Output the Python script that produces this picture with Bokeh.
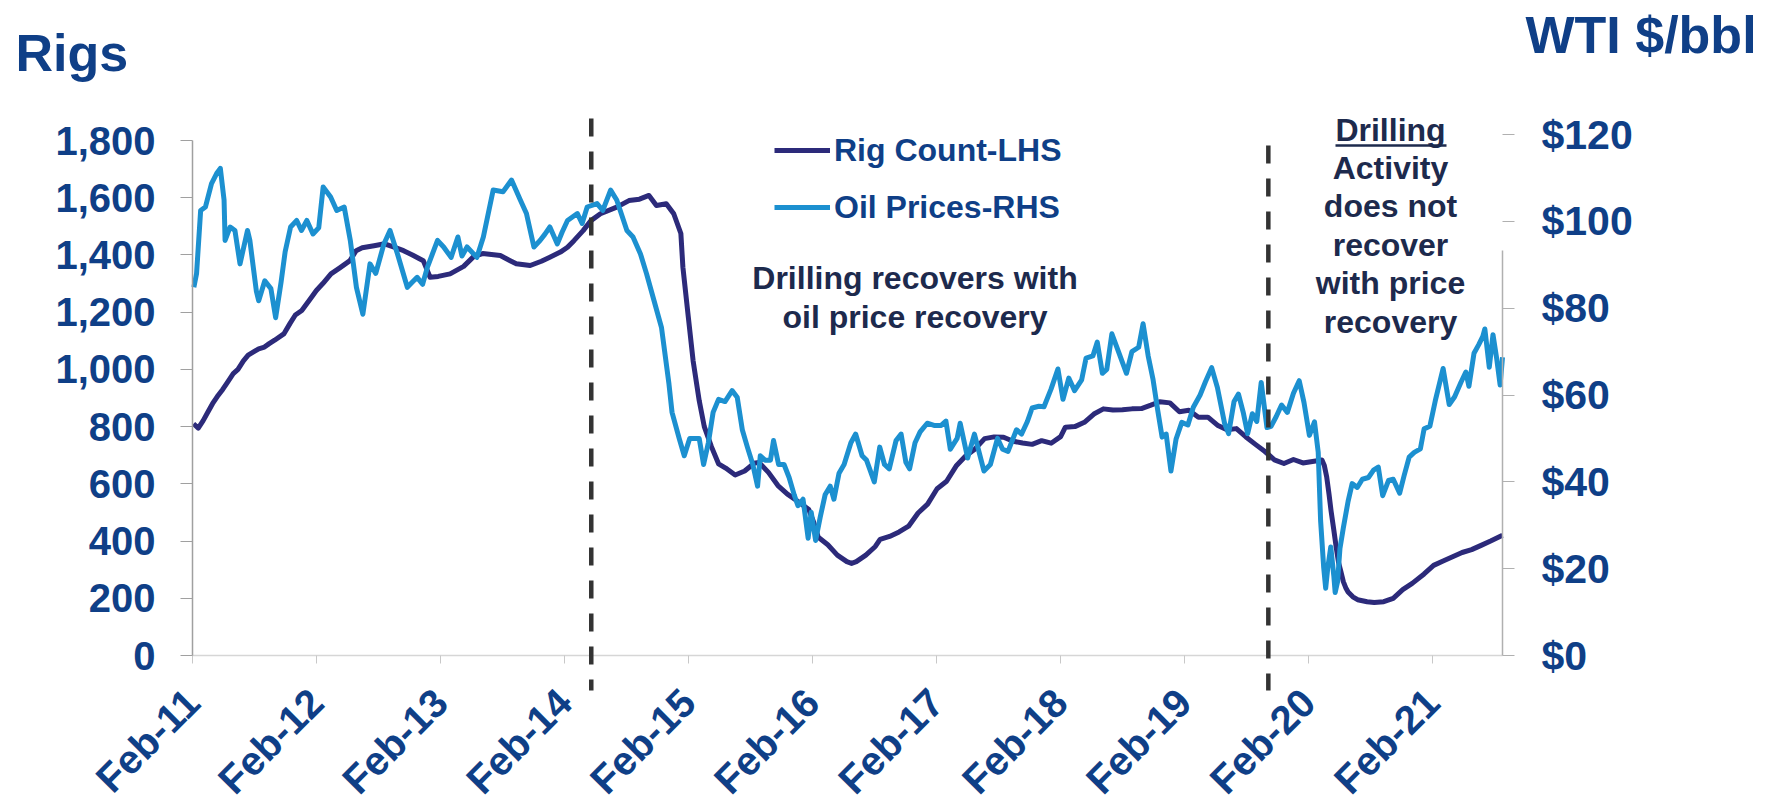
import math
import pandas as pd
from bokeh.plotting import figure
from bokeh.models import (Range1d, LinearAxis, FixedTicker, DatetimeTickFormatter,
                          NumeralTickFormatter, Label, Arrow, Legend, LegendItem)
from bokeh.embed import file_html
from bokeh.resources import INLINE

# ---------------- data ----------------
rig_dates = [
    "2011-02-04", "2011-02-18", "2011-03-04", "2011-03-18", "2011-04-01", "2011-04-15",
    "2011-05-01", "2011-05-15", "2011-06-01", "2011-06-15", "2011-07-01", "2011-07-15",
    "2011-08-01", "2011-08-15", "2011-09-01", "2011-09-15", "2011-10-01", "2011-10-28",
    "2011-11-15", "2011-12-01", "2011-12-20", "2012-01-15", "2012-02-01", "2012-02-20",
    "2012-03-15", "2012-04-10", "2012-05-10", "2012-05-28", "2012-06-15", "2012-07-20",
    "2012-08-20", "2012-09-15", "2012-10-15", "2012-11-10", "2012-12-12", "2013-01-01",
    "2013-01-25", "2013-03-01", "2013-04-10", "2013-05-10", "2013-06-05", "2013-07-27",
    "2013-08-25", "2013-09-12", "2013-10-23", "2013-11-25", "2013-12-20", "2014-01-20",
    "2014-02-10", "2014-03-01", "2014-03-28", "2014-04-20", "2014-05-18", "2014-07-05",
    "2014-08-10", "2014-09-10", "2014-10-08", "2014-10-30", "2014-11-28", "2014-12-20",
    "2015-01-10", "2015-01-16", "2015-02-01", "2015-02-15", "2015-03-05", "2015-03-20",
    "2015-04-10", "2015-05-01", "2015-05-22", "2015-06-19", "2015-07-17", "2015-08-14",
    "2015-08-28", "2015-09-25", "2015-10-23", "2015-11-20", "2015-12-18", "2016-01-22",
    "2016-02-05", "2016-02-19", "2016-03-18", "2016-04-15", "2016-05-13", "2016-05-27",
    "2016-06-10", "2016-07-08", "2016-08-05", "2016-08-19", "2016-09-16", "2016-10-14",
    "2016-11-11", "2016-12-09", "2017-01-06", "2017-02-03", "2017-03-03", "2017-03-31",
    "2017-04-28", "2017-05-26", "2017-06-23", "2017-07-21", "2017-08-18", "2017-09-15",
    "2017-10-13", "2017-11-10", "2017-12-08", "2018-01-05", "2018-02-02", "2018-02-16",
    "2018-03-16", "2018-04-13", "2018-05-11", "2018-06-08", "2018-07-06", "2018-08-03",
    "2018-08-31", "2018-09-28", "2018-10-26", "2018-11-21", "2018-12-21", "2019-01-18",
    "2019-02-15", "2019-03-15", "2019-04-12", "2019-05-10", "2019-06-07", "2019-07-05",
    "2019-08-02", "2019-08-30", "2019-09-27", "2019-10-25", "2019-11-22", "2019-12-20",
    "2020-01-17", "2020-02-14", "2020-03-13", "2020-03-20", "2020-03-27", "2020-04-03",
    "2020-04-09", "2020-04-17", "2020-04-24", "2020-05-01", "2020-05-08", "2020-05-15",
    "2020-05-22", "2020-05-29", "2020-06-12", "2020-06-26", "2020-07-24", "2020-08-14",
    "2020-09-11", "2020-10-09", "2020-11-06", "2020-12-04", "2021-01-08", "2021-02-05",
    "2021-03-05", "2021-04-02", "2021-04-30", "2021-05-28", "2021-06-25", "2021-07-23",
    "2021-08-27",
]
rig_counts = [
    810, 795, 820, 850, 880, 905,
    930, 955, 985, 1000, 1030, 1050,
    1062, 1072, 1078, 1090, 1102, 1124,
    1160, 1190, 1206, 1248, 1276, 1300,
    1334, 1355, 1380, 1415, 1425, 1432,
    1439, 1428, 1415, 1400, 1380, 1322,
    1325, 1334, 1360, 1395, 1405, 1398,
    1380, 1369, 1363, 1378, 1392, 1410,
    1427, 1450, 1485, 1520, 1544, 1567,
    1590, 1595, 1608, 1573, 1579, 1544,
    1475, 1357, 1182, 1031, 891, 800,
    730, 670, 655, 631, 645, 672,
    675, 640, 594, 564, 541, 510,
    467, 413, 387, 351, 328, 322,
    328, 351, 381, 406, 416, 432,
    452, 498, 529, 583, 609, 662,
    697, 722, 758, 764, 763, 749,
    743, 738, 751, 742, 765, 798,
    800, 815, 844, 862, 858, 859,
    862, 863, 875, 887, 883, 852,
    857, 833, 833, 805, 789, 793,
    764, 738, 713, 684, 671, 685,
    673, 678, 683, 664, 624, 562,
    504, 438, 378, 325, 292, 258,
    237, 222, 205, 195, 188, 185,
    188, 200, 230, 252, 285, 315,
    330, 345, 360, 370, 385, 400,
    420,
]

oil_dates = [
    "2011-02-05", "2011-02-13", "2011-02-25", "2011-03-11", "2011-03-29", "2011-04-13",
    "2011-04-24", "2011-05-05", "2011-05-08", "2011-05-23", "2011-06-06", "2011-06-21",
    "2011-07-13", "2011-07-20", "2011-08-08", "2011-08-15", "2011-09-02", "2011-09-20",
    "2011-10-04", "2011-10-20", "2011-11-01", "2011-11-17", "2011-12-05", "2011-12-19",
    "2012-01-04", "2012-01-22", "2012-02-08", "2012-02-21", "2012-03-14", "2012-04-01",
    "2012-04-23", "2012-05-11", "2012-05-29", "2012-06-17", "2012-07-08", "2012-07-25",
    "2012-08-18", "2012-09-05", "2012-09-27", "2012-10-26", "2012-11-10", "2012-11-24",
    "2012-12-10", "2012-12-24", "2013-01-23", "2013-02-10", "2013-03-04", "2013-03-24",
    "2013-04-05", "2013-04-20", "2013-05-19", "2013-06-07", "2013-07-06", "2013-08-04",
    "2013-08-29", "2013-09-24", "2013-10-12", "2013-11-03", "2013-11-21", "2013-12-05",
    "2013-12-20", "2014-01-11", "2014-01-25", "2014-02-10", "2014-03-11", "2014-03-25",
    "2014-04-09", "2014-05-08", "2014-05-25", "2014-06-17", "2014-07-05", "2014-08-04",
    "2014-08-22", "2014-09-13", "2014-10-01", "2014-10-23", "2014-11-14", "2014-12-06",
    "2014-12-15", "2015-01-05", "2015-01-20", "2015-02-05", "2015-02-20", "2015-03-05",
    "2015-03-18", "2015-04-01", "2015-04-15", "2015-05-01", "2015-05-20", "2015-06-10",
    "2015-06-25", "2015-07-10", "2015-07-25", "2015-08-10", "2015-08-24", "2015-09-01",
    "2015-09-15", "2015-10-01", "2015-10-10", "2015-10-25", "2015-11-10", "2015-11-25",
    "2015-12-10", "2015-12-21", "2016-01-05", "2016-01-20", "2016-01-29", "2016-02-11",
    "2016-02-25", "2016-03-10", "2016-03-25", "2016-04-05", "2016-04-20", "2016-05-05",
    "2016-05-25", "2016-06-08", "2016-06-27", "2016-07-10", "2016-08-02", "2016-08-18",
    "2016-09-01", "2016-09-15", "2016-10-05", "2016-10-20", "2016-11-03", "2016-11-14",
    "2016-11-30", "2016-12-15", "2017-01-05", "2017-01-25", "2017-02-15", "2017-03-01",
    "2017-03-14", "2017-04-03", "2017-04-12", "2017-05-04", "2017-05-24", "2017-06-21",
    "2017-07-10", "2017-07-31", "2017-08-15", "2017-08-31", "2017-09-25", "2017-10-10",
    "2017-10-27", "2017-11-10", "2017-11-30", "2017-12-15", "2018-01-05", "2018-01-25",
    "2018-02-09", "2018-02-26", "2018-03-15", "2018-04-05", "2018-04-18", "2018-05-08",
    "2018-05-21", "2018-06-05", "2018-06-18", "2018-07-03", "2018-07-20", "2018-08-15",
    "2018-08-31", "2018-09-20", "2018-10-03", "2018-10-18", "2018-11-01", "2018-11-15",
    "2018-11-28", "2018-12-10", "2018-12-24", "2019-01-08", "2019-01-25", "2019-02-12",
    "2019-02-28", "2019-03-20", "2019-04-05", "2019-04-23", "2019-05-10", "2019-05-31",
    "2019-06-12", "2019-06-28", "2019-07-11", "2019-07-25", "2019-08-07", "2019-08-21",
    "2019-09-03", "2019-09-16", "2019-10-03", "2019-10-15", "2019-10-30", "2019-11-15",
    "2019-12-02", "2019-12-20", "2020-01-06", "2020-01-20", "2020-02-05", "2020-02-20",
    "2020-03-02", "2020-03-09", "2020-03-18", "2020-03-24", "2020-03-30", "2020-04-08",
    "2020-04-17", "2020-04-21", "2020-04-28", "2020-05-05", "2020-05-15", "2020-05-29",
    "2020-06-10", "2020-06-25", "2020-07-10", "2020-07-28", "2020-08-12", "2020-08-26",
    "2020-09-08", "2020-09-25", "2020-10-09", "2020-10-28", "2020-11-10", "2020-11-25",
    "2020-12-10", "2020-12-28", "2021-01-08", "2021-01-25", "2021-02-10", "2021-02-24",
    "2021-03-05", "2021-03-23", "2021-04-08", "2021-04-27", "2021-05-11", "2021-05-20",
    "2021-06-04", "2021-06-18", "2021-06-30", "2021-07-06", "2021-07-19", "2021-07-30",
    "2021-08-10", "2021-08-20", "2021-08-27",
]
oil_prices = [
    84.8, 88.0, 102.5, 103.3, 108.7, 111.0,
    112.2, 104.9, 95.6, 98.7, 97.9, 90.2,
    97.9, 95.6, 84.0, 81.7, 86.3, 84.5,
    77.8, 86.0, 93.0, 98.7, 100.2, 97.9,
    100.2, 97.1, 98.5, 107.9, 105.6, 102.5,
    103.3, 95.6, 84.8, 78.6, 90.2, 88.0,
    94.8, 97.9, 92.5, 84.8, 86.0, 87.1,
    85.5, 89.4, 95.6, 94.1, 91.7, 96.4,
    92.0, 94.1, 91.7, 96.4, 107.2, 106.8,
    109.5, 104.9, 101.8, 94.1, 95.6, 97.0,
    98.7, 94.8, 97.5, 100.2, 101.8, 99.5,
    103.3, 104.1, 102.5, 107.2, 104.9, 97.9,
    96.4, 92.5, 87.9, 81.7, 75.5, 62.5,
    56.0, 50.0, 46.0, 50.0, 50.0, 50.0,
    44.0, 49.0, 56.0, 59.0, 58.5, 61.0,
    59.5, 52.0, 48.0, 44.0, 39.0, 46.0,
    45.0, 45.0, 49.5, 44.0, 44.0, 41.0,
    37.0, 34.5, 36.0, 27.0, 33.0, 26.5,
    32.0, 37.0, 39.0, 36.0, 42.0, 44.0,
    49.0, 51.0, 46.0, 45.0, 40.0, 48.0,
    44.0, 43.0, 49.5, 51.0, 44.5, 43.0,
    49.0, 51.5, 53.5, 53.0, 53.0, 54.0,
    47.5, 50.0, 53.5, 45.5, 51.0, 42.5,
    44.0, 50.0, 47.5, 47.0, 52.0, 51.0,
    53.9, 57.0, 57.4, 57.3, 61.4, 66.0,
    59.0, 63.9, 61.0, 63.5, 68.5, 69.0,
    72.2, 65.0, 65.9, 74.1, 70.5, 65.0,
    70.0, 71.0, 76.4, 69.0, 63.7, 56.5,
    50.3, 51.0, 42.5, 49.8, 53.7, 53.1,
    57.2, 60.0, 63.1, 66.3, 61.7, 53.5,
    51.1, 58.5, 60.2, 56.0, 51.1, 55.7,
    53.9, 62.9, 52.5, 52.8, 55.0, 57.7,
    56.0, 60.4, 63.3, 58.3, 50.7, 53.8,
    46.8, 31.1, 20.4, 15.5, 20.1, 25.0,
    18.3, 14.5, 17.0, 24.6, 29.4, 35.5,
    39.6, 38.7, 40.6, 41.0, 42.7, 43.4,
    36.8, 40.3, 40.6, 37.4, 41.4, 45.7,
    46.8, 47.6, 52.2, 52.8, 58.7, 63.2,
    66.1, 57.8, 59.6, 63.0, 65.3, 62.0,
    69.6, 71.6, 73.5, 75.2, 66.4, 73.9,
    68.3, 62.3, 68.7,
]

tick_dates = ["2011-02-01", "2012-02-01", "2013-02-01", "2014-02-01", "2015-02-01",
              "2016-02-01", "2017-02-01", "2018-02-01", "2019-02-01", "2020-02-01",
              "2021-02-01"]
tick_labels = ["Feb-11", "Feb-12", "Feb-13", "Feb-14", "Feb-15", "Feb-16",
               "Feb-17", "Feb-18", "Feb-19", "Feb-20", "Feb-21"]
rig_ticks = [0, 200, 400, 600, 800, 1000, 1200, 1400, 1600, 1800]
oil_ticks = [0, 20, 40, 60, 80, 100, 120]
marker_dates = ["2014-04-21", "2019-10-07"]
legend_labels = ["Rig Count-LHS", "Oil Prices-RHS"]
mid_note = ["Drilling recovers with", "oil price recovery"]
right_note = ["Drilling", "Activity", "does not", "recover", "with price", "recovery"]

# ---------------- style / geometry ----------------
BLUE = "#0f3f87"
NAVY_TXT = "#1d2a4d"
RIG_C = "#2c2a7a"
OIL_C = "#1c90d0"
FONT = "Liberation Sans"

W, H = 1779, 806
# pixel positions of the chart's axes inside the canvas
AX_L, AX_R, AX_B = 192, 1502, 655
RIG_1800_PX = 140
OIL_120_PX = 134


def ms(d):
    return pd.Timestamp(d).value // 10**6


X0, X1 = ms("2011-02-01"), ms("2021-08-27")


def xd(px):
    return X0 + (px - AX_L) * (X1 - X0) / (AX_R - AX_L)


def yd(py):
    return (AX_B - py) * 1800 / (AX_B - RIG_1800_PX)


def od(py):
    return (AX_B - py) * 120 / (AX_B - OIL_120_PX)


# the plotting frame covers the whole canvas; axes sit at fixed data locations
p = figure(width=W, height=H, x_axis_type="datetime", output_backend="svg",
           toolbar_location=None, x_range=Range1d(xd(0), xd(W)),
           y_range=Range1d(yd(H), yd(0)),
           min_border_left=0, min_border_right=0, min_border_top=0, min_border_bottom=0)
p.extra_y_ranges = {"oil": Range1d(od(H), od(0))}
p.outline_line_color = None
p.xgrid.visible = False
p.ygrid.visible = False
p.background_fill_color = "white"
p.border_fill_color = "white"

# x axis
xa = p.xaxis[0]
xa.fixed_location = 0
xa.bounds = (X0, X1)
xa.ticker = FixedTicker(ticks=[ms(d) for d in tick_dates])
xa.formatter = DatetimeTickFormatter(years="%b-%y", months="%b-%y", days="%b-%y")
xa.major_label_overrides = {ms(d): lab for d, lab in zip(tick_dates, tick_labels)}
xa.major_label_orientation = math.pi / 4
xa.major_label_text_font = FONT
xa.major_label_text_font_style = "bold"
xa.major_label_text_font_size = "40px"
xa.major_label_text_color = BLUE
xa.major_label_standoff = 32
xa.axis_line_color = "#d6d6d6"
xa.axis_line_width = 1.5
xa.major_tick_line_color = "#c8c8c8"
xa.major_tick_in = 0
xa.major_tick_out = 8
xa.minor_tick_line_color = None

# left axis
ya = p.yaxis[0]
ya.fixed_location = X0
ya.ticker = FixedTicker(ticks=rig_ticks)
ya.formatter = NumeralTickFormatter(format="0,0")
ya.bounds = (0, 1800)
ya.major_label_text_font = FONT
ya.major_label_text_font_style = "bold"
ya.major_label_text_font_size = "40px"
ya.major_label_text_color = BLUE
ya.major_label_standoff = 25
ya.axis_line_color = "#a0a0a0"
ya.axis_line_width = 1.5
ya.major_tick_line_color = "#a0a0a0"
ya.major_tick_in = 0
ya.major_tick_out = 12
ya.minor_tick_line_color = None

# right axis
ra = LinearAxis(y_range_name="oil", ticker=FixedTicker(ticks=oil_ticks),
                formatter=NumeralTickFormatter(format="$0"), fixed_location=X1)
ra.major_label_text_font = FONT
ra.major_label_text_font_style = "bold"
ra.major_label_text_font_size = "41px"
ra.major_label_text_color = BLUE
ra.major_label_standoff = 27
ra.axis_line_color = None
ra.major_tick_line_color = "#b0b0b0"
ra.major_tick_in = 0
ra.major_tick_out = 12
ra.minor_tick_line_color = None
p.add_layout(ra, "right")

# right spine (only up to ~$92, as in the source)
p.add_layout(Arrow(end=None, x_start=X1, x_end=X1, y_start=0, y_end=yd(250),
                   line_color="#b0b0b0", line_width=1.5))

# series
rig_r = p.line(x=pd.to_datetime(rig_dates), y=rig_counts, line_color=RIG_C,
               line_width=5, line_join="round")
oil_r = p.line(x=pd.to_datetime(oil_dates), y=oil_prices, y_range_name="oil",
               line_color=OIL_C, line_width=5, line_join="round")

# dashed markers
for d, top in zip(marker_dates, [118, 145]):
    p.add_layout(Arrow(end=None, x_start=ms(d), x_end=ms(d), y_start=yd(top), y_end=yd(690),
                       line_color="#333333", line_width=4.5, line_dash="18 15"))

# legend (location measured from the frame's bottom-left = canvas bottom-left)
leg = Legend(items=[LegendItem(label=legend_labels[0], renderers=[rig_r]),
                    LegendItem(label=legend_labels[1], renderers=[oil_r])],
             location=(774, H - 226), orientation="vertical",
             glyph_width=56, glyph_height=38, label_height=38, spacing=19,
             padding=0, margin=0, label_standoff=4,
             border_line_color=None, background_fill_alpha=0,
             label_text_font=FONT, label_text_font_style="bold",
             label_text_font_size="32px", label_text_color=BLUE)
p.add_layout(leg)


def add_text(px, py_center, text, size, color, align):
    p.add_layout(Label(x=xd(px), y=yd(py_center), text=text, text_font=FONT,
                       text_font_style="bold", text_font_size=f"{size}px",
                       text_color=color, text_align=align, text_baseline="middle"))


# titles (y = vertical centre of the capitals)
add_text(15, 52, "Rigs", 52, BLUE, "left")
add_text(1525, 34, "WTI $/bbl", 52, BLUE, "left")

# annotations
for i, line in enumerate(mid_note):
    add_text(914.5, 277 + 39 * i, line, 32, NAVY_TXT, "center")
for i, line in enumerate(right_note):
    add_text(1390, 129 + 38.4 * i, line, 32, NAVY_TXT, "center")
p.add_layout(Arrow(end=None, x_start=xd(1335), x_end=xd(1446), y_start=yd(145),
                   y_end=yd(145), line_color=NAVY_TXT, line_width=2.5))

open("out.html", "w").write(file_html(p, INLINE))
